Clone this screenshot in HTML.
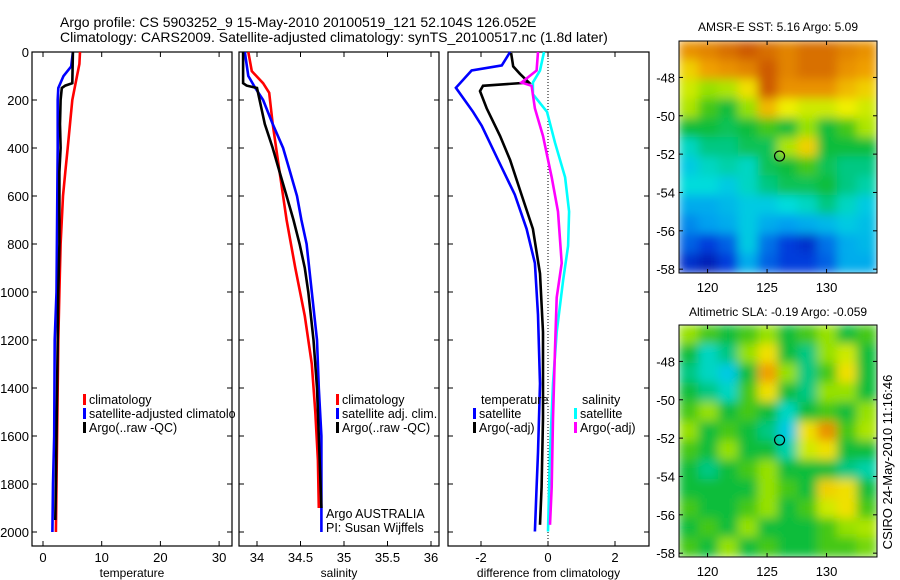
<!DOCTYPE html>
<html><head><meta charset="utf-8"><style>
body{margin:0;background:#fff;}
svg{display:block;font-family:"Liberation Sans",sans-serif;}
</style></head><body>
<svg id="fig" width="900" height="580" viewBox="0 0 900 580" xmlns="http://www.w3.org/2000/svg">
<defs>
<filter id="blur" x="0" y="0" width="1" height="1"><feGaussianBlur stdDeviation="5" edgeMode="duplicate"/></filter>
<clipPath id="c1"><rect x="679" y="41" width="198" height="232"/></clipPath>
<clipPath id="c2"><rect x="679" y="325" width="198" height="232"/></clipPath>
</defs>
<text x="60" y="27" font-size="14">Argo profile: CS 5903252_9 15-May-2010 20100519_121 52.104S 126.052E</text>
<text x="60" y="42" font-size="14">Climatology: CARS2009. Satellite-adjusted climatology: synTS_20100517.nc (1.8d later)</text>
<g id="g"></g>
</svg>
<script>
// ---- data ----
const tDepth=[0,50,100,200,300,400,500,600,700,800,1000,1200,1400,1600,1800,2000];
const tClim=[6.3,6.2,5.8,5.0,4.6,4.2,3.8,3.4,3.2,3.0,2.8,2.6,2.5,2.4,2.3,2.2];
const tSatDepth=[0,60,100,150,200,400,700,1000,1200,1600,1800,2000];
const tSat=[5.1,4.8,3.5,2.6,2.5,2.5,2.4,2.3,2.0,1.9,1.7,1.6];
const tArgoDepth=[0,130,140,150,200,300,400,500,800,1000,1400,1800,1950];
const tArgo=[5.1,5.0,3.8,3.2,3.0,2.9,3.0,2.8,2.8,2.6,2.4,2.2,2.1];
const sClimDepth=[0,80,130,170,300,500,700,900,1100,1300,1500,1700,1900];
const sClim=[33.9,33.94,34.07,34.14,34.18,34.26,34.34,34.44,34.55,34.63,34.67,34.70,34.71];
const sSatDepth=[0,100,150,200,300,400,500,600,700,800,1000,1200,1400,1600,2000];
const sSat=[33.86,33.9,33.98,34.07,34.18,34.3,34.38,34.46,34.51,34.57,34.63,34.69,34.71,34.74,34.74];
const sArgoDepth=[0,130,140,150,200,300,400,500,600,700,800,900,1000,1200,1400,1600,1900];
const sArgo=[33.84,33.84,33.88,34.0,34.03,34.09,34.18,34.26,34.34,34.42,34.49,34.55,34.59,34.65,34.69,34.71,34.74];
const dTSatDepth=[0,56,77,149,249,307,450,594,737,880,1095,1382,1669,1812,1998];
const dTSat=[-1.13,-1.38,-2.28,-2.75,-2.24,-1.98,-1.49,-0.99,-0.64,-0.39,-0.30,-0.24,-0.30,-0.34,-0.39];
const dTArgoDepth=[4,60,91,127,141,163,235,350,450,594,737,923,1167,1526,1812,1970];
const dTArgo=[-1.1,-1.04,-0.84,-0.57,-1.94,-2.03,-1.83,-1.43,-1.13,-0.79,-0.45,-0.24,-0.15,-0.15,-0.19,-0.24];
const dSSatDepth=[0,77,127,176,249,378,522,665,808,952,1167,1382,1669,1998];
const dSSat=[-0.12,-0.24,-0.45,-0.45,-0.03,0.21,0.51,0.63,0.6,0.45,0.26,0.15,0.06,0];
const dSArgoDepth=[0,77,127,141,235,350,522,665,880,1023,1238,1526,1812,1970];
const dSArgo=[-0.3,-0.34,-0.79,-0.49,-0.39,-0.15,0.11,0.3,0.41,0.26,0.21,0.15,0.11,0.06];
const depthTicks=[0,200,400,600,800,1000,1200,1400,1600,1800,2000];
const tTicks=[0,10,20,30];
const sTicks=[34,34.5,35,35.5,36];
const sTickLabels=["34","34.5","35","35.5","36"];
const dTicks=[-2,0,2];
const latTicks=[-48,-50,-52,-54,-56,-58];
const lonTicks=[120,125,130];
const sstGrid=[
[.8,.82,.85,.88,.85,.82,.85,.85,.82,.8],
[.72,.78,.8,.82,.88,.82,.85,.85,.8,.78],
[.65,.6,.62,.7,.88,.8,.8,.8,.75,.72],
[.62,.55,.5,.6,.75,.68,.65,.65,.68,.65],
[.5,.5,.48,.5,.55,.5,.6,.5,.55,.62],
[.4,.45,.45,.48,.48,.62,.72,.5,.5,.5],
[.35,.4,.42,.4,.48,.5,.55,.48,.45,.45],
[.38,.38,.35,.4,.45,.48,.48,.5,.45,.42],
[.3,.3,.32,.35,.35,.38,.4,.45,.4,.35],
[.25,.28,.3,.35,.3,.28,.3,.32,.35,.33],
[.2,.15,.2,.35,.22,.15,.12,.22,.3,.32],
[.12,.08,.15,.3,.2,.15,.15,.2,.3,.3]];
const slaGrid=[
[.6,.55,.5,.55,.6,.5,.55,.6,.5,.55],
[.5,.4,.45,.6,.7,.5,.45,.6,.65,.5],
[.45,.4,.35,.5,.78,.6,.45,.55,.7,.5],
[.5,.45,.4,.55,.7,.5,.45,.6,.6,.5],
[.55,.6,.5,.55,.5,.4,.5,.55,.5,.6],
[.6,.5,.55,.5,.45,.35,.7,.8,.55,.62],
[.55,.5,.6,.5,.5,.42,.65,.7,.5,.5],
[.5,.45,.5,.55,.6,.5,.5,.5,.45,.42],
[.5,.5,.5,.5,.6,.55,.5,.72,.7,.5],
[.55,.5,.5,.55,.6,.5,.55,.65,.7,.55],
[.5,.55,.5,.6,.5,.5,.5,.55,.6,.62],
[.55,.5,.6,.5,.55,.5,.5,.55,.55,.58]];
const argoLon=126.05, argoLat=-52.1;

const NS='http://www.w3.org/2000/svg';
const G=document.getElementById('g');
function el(t,a,p){const e=document.createElementNS(NS,t);for(const k in a)e.setAttribute(k,a[k]);(p||G).appendChild(e);return e;}
function txt(x,y,s,anchor,size,p){const e=el('text',{x:x,y:y,'font-size':size||12,'text-anchor':anchor||'start'},p);e.textContent=s;return e;}
const dY=d=>52+d*0.24;
const xT=v=>43+v*5.87;
const xS=v=>257+(v-34)*87;
const xD=v=>548+v*33.5;

function panel(name,x0,x1,xf,ticks,labels,xlabel,showY){
  const r=el('rect',{x:x0,y:52,width:x1-x0,height:494,fill:'none',stroke:'#000','stroke-width':1.2});
  
  depthTicks.forEach(d=>{
    el('line',{x1:x0,x2:x0+5,y1:dY(d),y2:dY(d),stroke:'#000'});
    el('line',{x1:x1-5,x2:x1,y1:dY(d),y2:dY(d),stroke:'#000'});
    if(showY){const t=txt(x0-3,dY(d)+5,String(d),'end',13);}
  });
  ticks.forEach((v,i)=>{const x=xf(v);
    el('line',{x1:x,x2:x,y1:52,y2:57,stroke:'#000'});
    el('line',{x1:x,x2:x,y1:541,y2:546,stroke:'#000'});
    const t=txt(x,562,labels[i],'middle',13);});
  const l=txt((x0+x1)/2,577,xlabel,'middle',12);
}
function line(name,xs,ds,xf,col){
  const pts=xs.map((v,i)=>xf(v).toFixed(1)+','+dY(ds[i]).toFixed(1)).join(' ');
  const p=el('polyline',{points:pts,fill:'none',stroke:col,'stroke-width':2.6});
  
}
function leg(x,y,col,label,name){
  const r=el('rect',{x:x,y:y-10,width:3,height:11,fill:col});
  
  const t=txt(x+6,y,label,'start',12.5);
}
// panel 1
panel('temperature-panel',32,232,xT,tTicks,tTicks.map(String),'temperature',true);
line('temperature-climatology-line',tClim,tDepth,xT,'#ff0000');
line('temperature-satellite-line',tSat,tSatDepth,xT,'#0000ff');
line('temperature-argo-line',tArgo,tArgoDepth,xT,'#000');
leg(83,404,'#ff0000','climatology','legend-climatology');
leg(83,418,'#0000ff','satellite-adjusted climatolo','legend-satellite');
leg(83,432,'#000','Argo(..raw -QC)','legend-argo');
// panel 2
panel('salinity-panel',239,439,xS,sTicks,sTickLabels,'salinity',false);
line('salinity-climatology-line',sClim,sClimDepth,xS,'#ff0000');
line('salinity-satellite-line',sSat,sSatDepth,xS,'#0000ff');
line('salinity-argo-line',sArgo,sArgoDepth,xS,'#000');
leg(336,404,'#ff0000','climatology','legend-sal-climatology');
leg(336,418,'#0000ff','satellite adj. clim.','legend-sal-satellite');
leg(336,432,'#000','Argo(..raw -QC)','legend-sal-argo');
let a=txt(326,518,'Argo AUSTRALIA','start',12.5);
a=txt(326,532,'PI: Susan Wijffels','start',12.5);
// panel 3
panel('difference-panel',448,649,xD,dTicks,dTicks.map(String),'difference from climatology',false);
el('line',{x1:xD(0),x2:xD(0),y1:52,y2:546,stroke:'#000','stroke-dasharray':'1,2'});
line('diff-temp-satellite-line',dTSat,dTSatDepth,xD,'#0000ff');
line('diff-temp-argo-line',dTArgo,dTArgoDepth,xD,'#000');
line('diff-sal-satellite-line',dSSat,dSSatDepth,xD,'#00ffff');
line('diff-sal-argo-line',dSArgo,dSArgoDepth,xD,'#ff00ff');
a=txt(481,404,'temperature','start',12.5);
leg(473,418,'#0000ff','satellite','legend-diff-temp-satellite');
leg(473,432,'#000','Argo(-adj)','legend-diff-temp-argo');
a=txt(582,404,'salinity','start',12.5);
leg(574,418,'#00ffff','satellite','legend-diff-sal-satellite');
leg(574,432,'#ff00ff','Argo(-adj)','legend-diff-sal-argo');

// maps
const cmapStops=[[0,0,0,140],[.15,0,60,220],[.28,0,160,240],[.38,0,220,220],[.45,0,200,130],[.52,20,185,30],[.6,150,225,0],[.68,240,240,0],[.78,240,160,0],[.88,205,90,0],[1,150,40,0]];
function cmap(v){v=Math.max(0,Math.min(1,v));
  for(let i=1;i<cmapStops.length;i++){const a=cmapStops[i-1],b=cmapStops[i];
    if(v<=b[0]){const t=(v-a[0])/(b[0]-a[0]);
      return 'rgb('+[1,2,3].map(k=>Math.round(a[k]+(b[k]-a[k])*t)).join(',')+')';}}
  return 'rgb(150,40,0)';}
function map(name,grid,y0,h,clip,title,titleY,lonLabelY){
  const x0=679,w=198;
  const lonX=l=>x0+(l-117.6)*11.9;
  const latY=la=>y0+(-46.1-la)*(h/12.1);
  const g=el('g',{'clip-path':'url(#'+clip+')'});
  const gi=el('g',{filter:'url(#blur)'},g);
  const rows=grid.length,cols=grid[0].length,cw=w/cols,ch=h/rows;
  grid.forEach((row,i)=>row.forEach((v,j)=>{
    const c=el('rect',{x:x0+j*cw-0.5,y:y0+i*ch-0.5,width:cw+1,height:ch+1,fill:cmap(v)},gi);
    
  }));
  const fr=el('rect',{x:x0,y:y0,width:w,height:h,fill:'none',stroke:'#000'});
  
  latTicks.forEach(la=>{const y=latY(la);
    el('line',{x1:x0,x2:x0+4,y1:y,y2:y,stroke:'#000'});el('line',{x1:x0+w-4,x2:x0+w,y1:y,y2:y,stroke:'#000'});
    const t=txt(x0-4,y+5,String(la),'end',13);});
  lonTicks.forEach(lo=>{const x=lonX(lo);
    el('line',{x1:x,x2:x,y1:y0,y2:y0+4,stroke:'#000'});el('line',{x1:x,x2:x,y1:y0+h-4,y2:y0+h,stroke:'#000'});
    const t=txt(x,lonLabelY,String(lo),'middle',13);});
  const m=el('circle',{cx:lonX(argoLon),cy:latY(argoLat),r:5,fill:'none',stroke:'#000','stroke-width':1.2});
  
  const t=txt(x0+w/2,titleY,title,'middle',12);
}
map('sst-map',sstGrid,41,232,'c1','AMSR-E SST: 5.16 Argo: 5.09',31,292);
map('sla-map',slaGrid,325,232,'c2','Altimetric SLA: -0.19 Argo: -0.059',316,576);
a=txt(0,0,'CSIRO 24-May-2010 11:16:46','middle',13);
a.setAttribute('transform','translate(892,462) rotate(-90)');

</script>
</body></html>
